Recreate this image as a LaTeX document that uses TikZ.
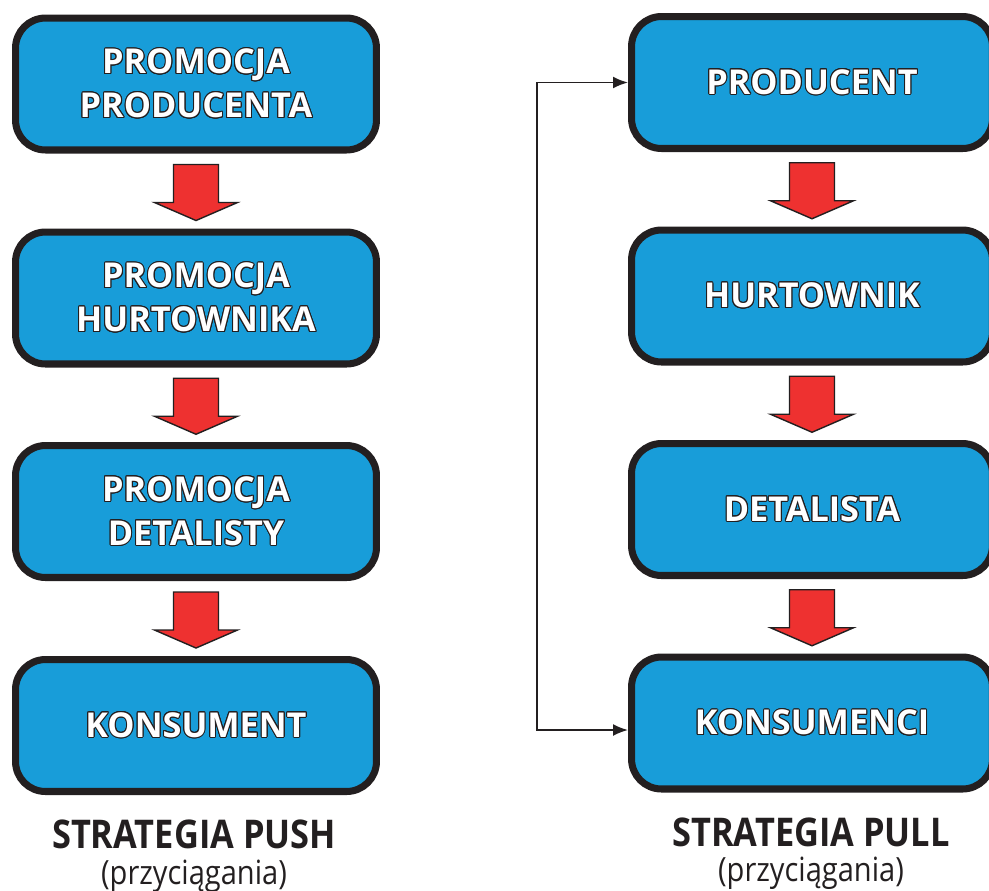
\documentclass[tikz,border=0pt]{standalone}
\usepackage{fontspec}
\setmainfont{Open Sans}
\newfontfamily\schmal[FakeStretch=0.87]{Open Sans}
\usepackage{contour}
\contourlength{0.6pt}
\usepackage{tikz}
\usetikzlibrary{arrows.meta,positioning,calc}
\definecolor{boxblau}{HTML}{189DD9}
\definecolor{pfeilrot}{HTML}{EE3130}
\definecolor{rand}{HTML}{231F20}
\tikzset{
  kasten/.style={rectangle, rounded corners=0.6cm, draw=rand, fill=boxblau, line width=4pt,
                 minimum width=7.22cm, minimum height=2.64cm, align=center, text=white,
                 font=\fontsize{19.5}{25}\selectfont\bfseries},
  pfeil/.style={draw=rand, fill=pfeilrot, line width=0.8pt, line join=miter},
  rueck/.style={{Latex[length=3mm,width=2.4mm]}-{Latex[length=3mm,width=2.4mm]}, line width=1.1pt, draw=rand},
  titel/.style={font=\schmal\fontsize{22.5}{26}\selectfont\bfseries, text=rand},
  untertitel/.style={font=\schmal\fontsize{19}{24}\selectfont, text=rand},
}
\newcommand{\kt}[1]{\contour{rand}{#1}}
% red block arrow between two boxes
\newcommand{\redpfeil}[2]{
  \coordinate (m) at ($(#1.south)!0.5!(#2.north)$);
  \draw[pfeil] ($(m)+(-22.5,-26.5)$) -- ++(45,0) -- ++(0,38) -- ++(19,0) -- ($(m)+(0,29.5)$)
    -- ++(-41.5,-18) -- ++(19,0) -- cycle;
}

\begin{document}
\begin{tikzpicture}[x=0.02cm, y=-0.02cm]
\useasboundingbox (0,0) rectangle (989,890);
% strategia push
\node[kasten] (pp) at (196,84) {\kt{PROMOCJA}\\\kt{PRODUCENTA}};
\node[kasten] (ph) at (196,298) {\kt{PROMOCJA}\\\kt{HURTOWNIKA}};
\node[kasten] (pd) at (196,511.5) {\kt{PROMOCJA}\\\kt{DETALISTY}};
\node[kasten] (pk) at (196,725.5) {\kt{KONSUMENT}};
\redpfeil{pp}{ph}
\redpfeil{ph}{pd}
\redpfeil{pd}{pk}
\node[titel] (push) at (194,834) {STRATEGIA PUSH};
\node[untertitel] (pushsub) at (194,876) {(przyciągania)};
% strategia pull
\node[kasten] (lp) at (812,82.5) {\kt{PRODUCENT}};
\node[kasten] (lh) at (812,296) {\kt{HURTOWNIK}};
\node[kasten] (ld) at (812,509.5) {\kt{DETALISTA}};
\node[kasten] (lk) at (812,723) {\kt{KONSUMENCI}};
\redpfeil{lp}{lh}
\redpfeil{lh}{ld}
\redpfeil{ld}{lk}
\node[titel] (pull) at (811,832) {STRATEGIA PULL};
\node[untertitel] (pullsub) at (811,873) {(przyciągania)};
\draw[rueck] (lp.west) -- ++(-91,0) |- ([yshift=-0.14cm]lk.west);
\end{tikzpicture}
\end{document}
